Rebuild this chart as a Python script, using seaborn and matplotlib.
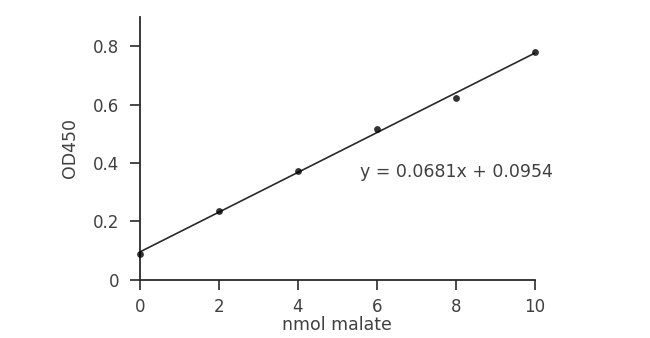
import matplotlib
matplotlib.use("Agg")
import matplotlib.pyplot as plt
import seaborn as sns
import pandas as pd

nmol = [0, 2, 4, 6, 8, 10]
od450 = [0.088, 0.234, 0.374, 0.517, 0.622, 0.780]
xticks = [0, 2, 4, 6, 8, 10]
yticks = [0, 0.2, 0.4, 0.6, 0.8]
ytick_labels = ["0", "0.2", "0.4", "0.6", "0.8"]
equation = "y = 0.0681x + 0.0954"

sns.set_style("ticks")
plt.rcParams['font.family'] = ['DejaVu Sans']

df = pd.DataFrame({"nmol": nmol, "od": od450})

fig = plt.figure(figsize=(6.5, 3.38), dpi=100)
ax = fig.add_axes([0.215, 0.172, 0.608, 0.778])

sns.regplot(data=df, x="nmol", y="od", ax=ax, ci=None,
            scatter_kws=dict(s=24, color="black", zorder=3, linewidths=0, clip_on=False),
            line_kws=dict(color="#2a2a2a", lw=1.2))

ax.set_xlim(0, 10)
ax.set_ylim(0, 0.9)
ax.set_xticks(xticks)
ax.set_yticks(yticks)
ax.set_yticklabels(ytick_labels)
for s in ["top", "right"]:
    ax.spines[s].set_visible(False)
for s in ["left", "bottom"]:
    ax.spines[s].set_color("#2a2a2a")
    ax.spines[s].set_linewidth(1.3)
ax.spines["bottom"].set_bounds(0, 10)
ax.tick_params(axis="both", colors="#2a2a2a", labelcolor="#404040",
               labelsize=12, length=7, width=1.2, direction="out")
ax.tick_params(axis="y", pad=8)
ax.tick_params(axis="x", pad=6)
ax.set_xlabel("nmol malate", fontsize=12.5, color="#404040", labelpad=0)
ax.set_ylabel("OD450", fontsize=12.5, color="#404040", labelpad=10)
for sp in ax.spines.values():
    sp.set_clip_on(False)
ax.text(5.57, 0.368, equation, fontsize=12.5, color="#404040",
        ha="left", va="center")

fig.savefig("out.png", dpi=100)
